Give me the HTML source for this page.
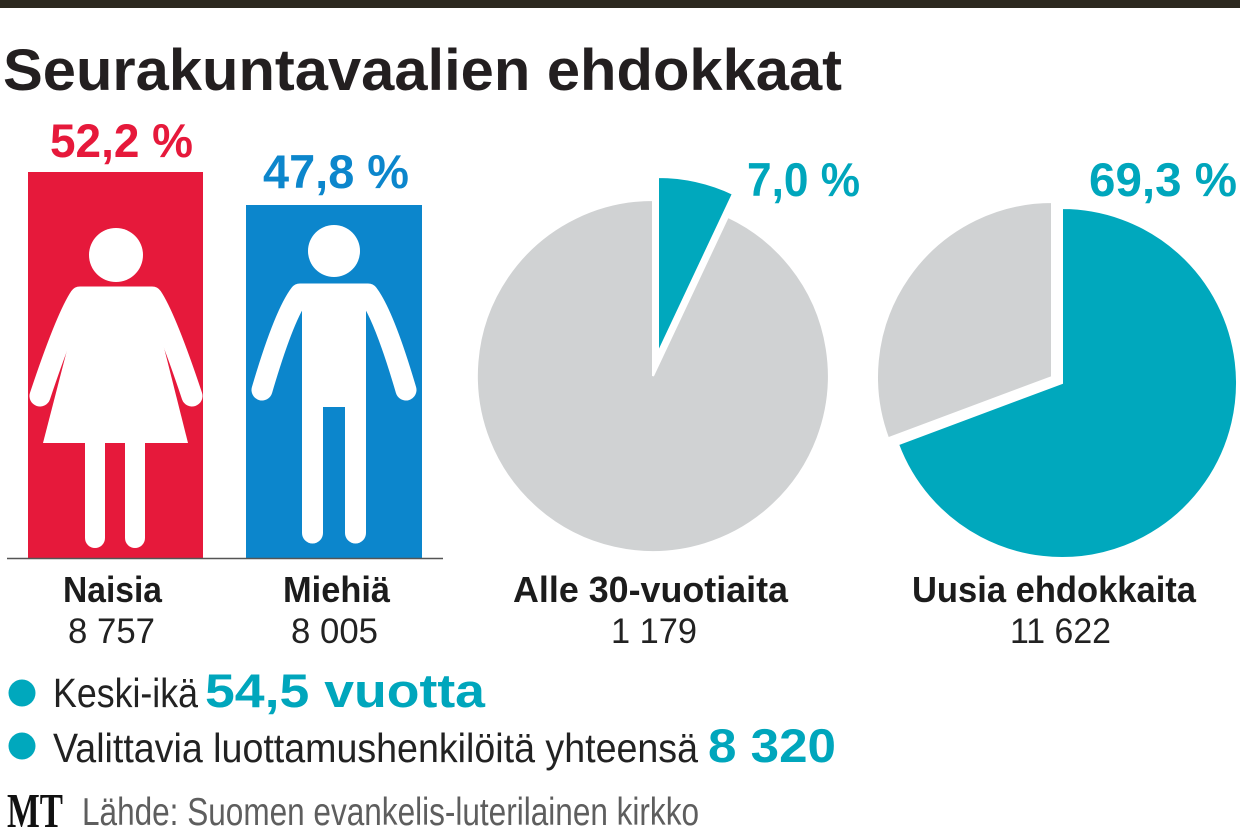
<!DOCTYPE html>
<html>
<head>
<meta charset="utf-8">
<style>
  html,body{margin:0;padding:0;background:#fff;}
  svg{display:block;}
  text{font-family:"Liberation Sans",sans-serif;}
  .lbl{font-weight:bold;font-size:36px;fill:#1c1c1c;}
  .num{font-family:"Liberation Sans Narrow","Liberation Sans",sans-serif;font-size:35px;fill:#222;}
  .pct{font-weight:bold;font-size:47px;}
</style>
</head>
<body>
<svg width="1240" height="836" viewBox="0 0 1240 836" xmlns="http://www.w3.org/2000/svg">
  <rect x="0" y="0" width="1240" height="836" fill="#ffffff"/>
  <!-- top bar -->
  <rect x="0" y="0" width="1240" height="8" fill="#2c281f"/>

  <!-- title -->
  <text x="3" y="90" font-size="58" font-weight="bold" fill="#231f20" textLength="839" lengthAdjust="spacingAndGlyphs">Seurakuntavaalien ehdokkaat</text>

  <!-- percentages over bars -->
  <text class="pct" x="50" y="157" fill="#e6193b" textLength="143" lengthAdjust="spacingAndGlyphs">52,2 %</text>
  <text class="pct" x="263" y="188" fill="#0c86cc" textLength="146" lengthAdjust="spacingAndGlyphs">47,8 %</text>

  <!-- bars -->
  <rect x="28" y="172" width="175" height="386" fill="#e6193b"/>
  <rect x="246" y="205" width="176" height="353" fill="#0c86cc"/>
  <line x1="7" y1="558.5" x2="443" y2="558.5" stroke="#555" stroke-width="1.5"/>

  <!-- woman -->
  <g fill="#fff">
    <circle cx="116" cy="255" r="27"/>
    <path d="M40 396 Q66 318 80 297 L152 297 Q166 318 192 396" fill="none" stroke="#fff" stroke-width="21" stroke-linecap="round" stroke-linejoin="round"/>
    <polygon points="82,292 150,292 188,443 43,443"/>
    <path d="M85 435 L85 538 A10 10 0 0 0 105 538 L105 435 Z"/>
    <path d="M125 435 L125 538 A10 10 0 0 0 145 538 L145 435 Z"/>
  </g>

  <!-- man -->
  <g fill="#fff">
    <circle cx="334" cy="251" r="26"/>
    <path d="M262 390 Q284 315 300 294 L368 294 Q384 315 406 390" fill="none" stroke="#fff" stroke-width="21" stroke-linecap="round" stroke-linejoin="round"/>
    <path d="M302 290 L366 290 L366 533 A10.5 10.5 0 0 1 345 533 L345 407 L323 407 L323 533 A10.5 10.5 0 0 1 302 533 Z"/>
  </g>

  <!-- labels under bars -->
  <text class="lbl" x="63" y="602" textLength="99" lengthAdjust="spacingAndGlyphs">Naisia</text>
  <text class="num" x="68" y="643" textLength="87" lengthAdjust="spacingAndGlyphs">8 757</text>
  <text class="lbl" x="283" y="602" textLength="107" lengthAdjust="spacingAndGlyphs">Miehiä</text>
  <text class="num" x="291" y="643" textLength="87" lengthAdjust="spacingAndGlyphs">8 005</text>

  <!-- pie 1 -->
  <path d="M653 376 L727.9 216.8 A176 176 0 1 1 653 200 Z" fill="#d0d2d3" stroke="#fff" stroke-width="2"/>
  <path d="M658 353 L658 177 A176 176 0 0 1 732.9 193.8 Z" fill="#00a8bd" stroke="#fff" stroke-width="2"/>
  <text class="pct" x="747" y="196" fill="#00a6bc" textLength="113" lengthAdjust="spacingAndGlyphs">7,0 %</text>

  <!-- pie 2 -->
  <path d="M1062 383 L1062 208 A175 175 0 1 1 898.1 444.3 Z" fill="#00a8bd" stroke="#fff" stroke-width="2"/>
  <path d="M1052 377 L888.1 438.3 A175 175 0 0 1 1052 202 Z" fill="#d0d2d3" stroke="#fff" stroke-width="2"/>
  <text class="pct" x="1089" y="196" fill="#00a6bc" textLength="148" lengthAdjust="spacingAndGlyphs">69,3 %</text>

  <!-- pie labels -->
  <text class="lbl" x="513" y="602" textLength="275" lengthAdjust="spacingAndGlyphs">Alle 30-vuotiaita</text>
  <text class="num" x="611" y="643" textLength="86" lengthAdjust="spacingAndGlyphs">1 179</text>
  <text class="lbl" x="912" y="602" textLength="284" lengthAdjust="spacingAndGlyphs">Uusia ehdokkaita</text>
  <text class="num" x="1010" y="643" textLength="101" lengthAdjust="spacingAndGlyphs">11 622</text>

  <!-- bullets -->
  <circle cx="22" cy="693" r="13.5" fill="#00a8bd"/>
  <text class="num" x="53" y="707" font-size="41" textLength="145" lengthAdjust="spacingAndGlyphs" style="font-size:41px">Keski-ikä</text>
  <text x="205" y="707" font-size="47" font-weight="bold" fill="#00a6bc" textLength="280" lengthAdjust="spacingAndGlyphs">54,5 vuotta</text>

  <circle cx="22" cy="746" r="13.5" fill="#00a8bd"/>
  <text class="num" x="53" y="762" textLength="645" lengthAdjust="spacingAndGlyphs" style="font-size:41px">Valittavia luottamushenkilöitä yhteensä</text>
  <text x="708" y="762" font-size="47" font-weight="bold" fill="#00a6bc" textLength="128" lengthAdjust="spacingAndGlyphs">8 320</text>

  <!-- footer -->
  <text x="7" y="827" font-family="Liberation Serif, serif" style="font-family:'Liberation Serif',serif" font-size="49" font-weight="bold" fill="#111" textLength="56" lengthAdjust="spacingAndGlyphs">MT</text>
  <text class="num" x="82" y="825" textLength="617" lengthAdjust="spacingAndGlyphs" style="font-size:39px;fill:#5e5e5e">Lähde: Suomen evankelis-luterilainen kirkko</text>
</svg>
</body>
</html>
